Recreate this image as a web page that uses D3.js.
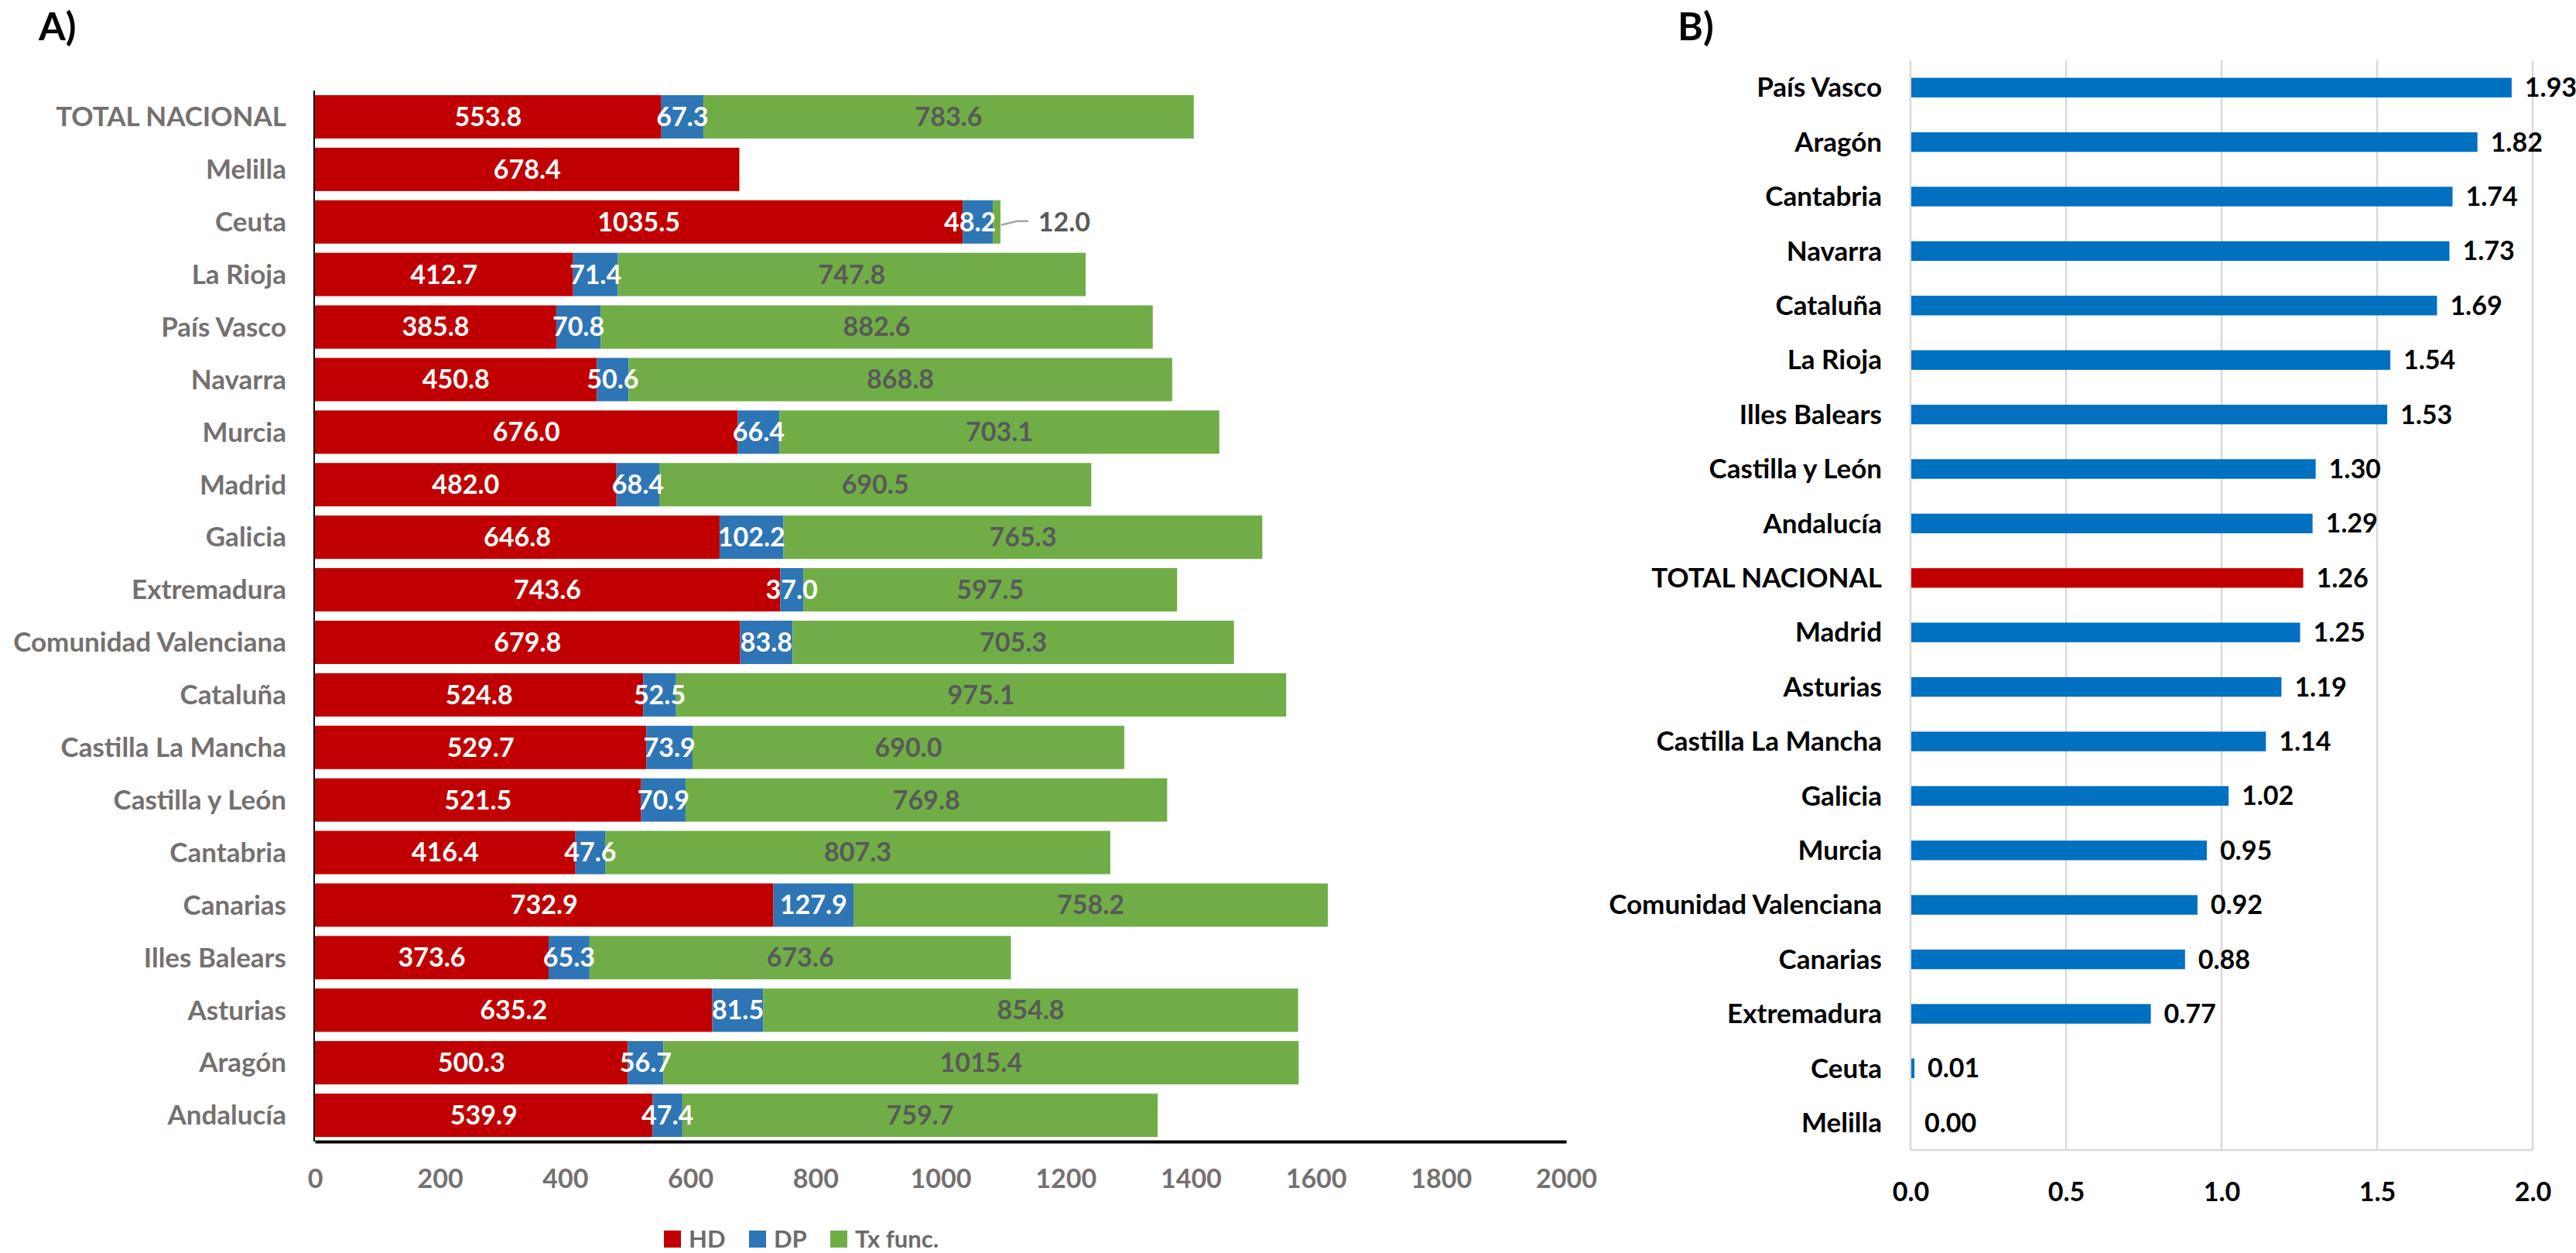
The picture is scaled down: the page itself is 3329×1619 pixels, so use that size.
<!DOCTYPE html>
<html>
<head>
<meta charset="utf-8">
<script src="https://cdn.jsdelivr.net/npm/d3@7/dist/d3.min.js"></script>
<style>
  html, body { margin: 0; padding: 0; background: #fff; }
  svg { display: block; }
  text { font-family: Lato, "Open Sans", sans-serif; font-weight: bold; }
</style>
</head>
<body>
<svg id="chart" width="3329" height="1619"></svg>
<script>
// ---------- Panel A data (top to bottom) ----------
const regionsA = ["TOTAL NACIONAL","Melilla","Ceuta","La Rioja","País Vasco","Navarra","Murcia","Madrid","Galicia","Extremadura","Comunidad Valenciana","Cataluña","Castilla La Mancha","Castilla y León","Cantabria","Canarias","Illes Balears","Asturias","Aragón","Andalucía"];
const hdValues = [553.8,678.4,1035.5,412.7,385.8,450.8,676.0,482.0,646.8,743.6,679.8,524.8,529.7,521.5,416.4,732.9,373.6,635.2,500.3,539.9];
const dpValues = [67.3,0,48.2,71.4,70.8,50.6,66.4,68.4,102.2,37.0,83.8,52.5,73.9,70.9,47.6,127.9,65.3,81.5,56.7,47.4];
const txValues = [783.6,0,12.0,747.8,882.6,868.8,703.1,690.5,765.3,597.5,705.3,975.1,690.0,769.8,807.3,758.2,673.6,854.8,1015.4,759.7];
const seriesNames = ["HD","DP","Tx func."];
const ticksA = [0,200,400,600,800,1000,1200,1400,1600,1800,2000];

// ---------- Panel B data (top to bottom) ----------
const regionsB = ["País Vasco","Aragón","Cantabria","Navarra","Cataluña","La Rioja","Illes Balears","Castilla y León","Andalucía","TOTAL NACIONAL","Madrid","Asturias","Castilla La Mancha","Galicia","Murcia","Comunidad Valenciana","Canarias","Extremadura","Ceuta","Melilla"];
const ratioValues = [1.93,1.82,1.74,1.73,1.69,1.54,1.53,1.30,1.29,1.26,1.25,1.19,1.14,1.02,0.95,0.92,0.88,0.77,0.01,0.00];
const ticksB = [0,0.5,1.0,1.5,2.0];

const colors = { HD: "#C00000", DP: "#2E75B6", Tx: "#70AD47", B: "#0070C0", total: "#C00000" };

const svg = d3.select("#chart");

// ================= Panel A =================
(function(){
  const x = d3.scaleLinear().domain([0,2000]).range([407,2024]);
  const y = d3.scaleBand().domain(regionsA).range([117,1475]).paddingInner(0.175).paddingOuter(0.0875);
  const g = svg.append("g");

  const rows = regionsA.map((r,i) => ({region:r, vals:[hdValues[i], dpValues[i], txValues[i]]}));
  const stack = d3.stack().keys([0,1,2]).value((d,k) => d.vals[k]);
  const layers = stack(rows);
  const segColors = [colors.HD, colors.DP, colors.Tx];
  const txtColors = ["#FFFFFF","#FFFFFF","#595959"];

  layers.forEach((layer, k) => {
    g.append("g").selectAll("rect").data(layer.filter(d => d[1] - d[0] > 0)).join("rect")
      .attr("x", d => x(d[0]))
      .attr("y", d => y(d.data.region))
      .attr("width", d => x(d[1]) - x(d[0]))
      .attr("height", y.bandwidth())
      .attr("fill", segColors[k]);
  });

  // labels
  layers.forEach((layer, k) => {
    layer.forEach(d => {
      const v = d[1] - d[0];
      if (v <= 0) return;
      const cy = y(d.data.region) + y.bandwidth()/2;
      if (d.data.region === "Ceuta" && k === 2) {
        const xe = x(d[1]);
        g.append("polyline")
          .attr("points", `${xe+1},${cy+4} ${xe+21},${cy-1} ${xe+36},${cy-1}`)
          .attr("fill","none").attr("stroke","#A6A6A6").attr("stroke-width",2.5);
        g.append("text").attr("x", xe + 49).attr("y", cy).attr("dy","0.35em")
          .attr("font-size", 34).attr("fill", "#595959").text(v.toFixed(1));
        return;
      }
      let cx = (x(d[0]) + x(d[1]))/2;
      if (d.data.region === "Ceuta" && k === 1) cx -= 10;
      g.append("text").attr("x", cx).attr("y", cy).attr("dy","0.35em")
        .attr("text-anchor","middle").attr("font-size", 34)
        .attr("fill", txtColors[k]).text(v.toFixed(1));
    });
  });

  // category labels
  g.append("g").selectAll("text").data(regionsA).join("text")
    .attr("x", 370).attr("y", d => y(d) + y.bandwidth()/2).attr("dy","0.35em")
    .attr("text-anchor","end").attr("font-size", 35).attr("fill","#757070").text(d => d);

  // axes lines
  g.append("line").attr("x1",406).attr("x2",406).attr("y1",117).attr("y2",1475)
    .attr("stroke","#000").attr("stroke-width",2);
  const ax = d3.axisBottom(x).tickValues(ticksA).tickSize(0).tickPadding(36).tickFormat(d3.format("d"));
  const axg = g.append("g").attr("transform","translate(0,1475)").call(ax);
  axg.select(".domain").attr("stroke","#000").attr("stroke-width",4);
  axg.selectAll("text").attr("font-size",34).attr("fill","#757070")
    .style("font-family","Lato, sans-serif").style("font-weight","bold");

  // legend
  const lg = g.append("g");
  const legX = [858, 968, 1073];
  const legC = [colors.HD, colors.DP, colors.Tx];
  seriesNames.forEach((s,i) => {
    lg.append("rect").attr("x", legX[i]).attr("y", 1590).attr("width",22).attr("height",22).attr("fill",legC[i]);
    lg.append("text").attr("x", legX[i] + 32).attr("y", 1601).attr("dy","0.35em")
      .attr("font-size",31).attr("fill","#6B6B6B").text(s);
  });

  svg.append("text").attr("x",50).attr("y",52).attr("font-size",50).attr("fill","#000").text("A)");
})();

// ================= Panel B =================
(function(){
  const x = d3.scaleLinear().domain([0,2]).range([2469,3273]);
  const y = d3.scaleBand().domain(regionsB).range([78,1486]).paddingInner(0.64).paddingOuter(0.32);
  const g = svg.append("g");

  // gridlines
  g.append("g").selectAll("line").data(ticksB).join("line")
    .attr("x1", d => x(d)).attr("x2", d => x(d)).attr("y1",78).attr("y2",1486)
    .attr("stroke","#D9D9D9").attr("stroke-width",2.5);
  g.append("line").attr("x1",x(0)).attr("x2",x(2)).attr("y1",1486).attr("y2",1486)
    .attr("stroke","#D9D9D9").attr("stroke-width",2.5);

  const rows = regionsB.map((r,i) => ({region:r, v:ratioValues[i]}));
  g.append("g").selectAll("rect").data(rows).join("rect")
    .attr("x", x(0) + 1)
    .attr("y", d => y(d.region))
    .attr("width", d => Math.max(0, x(d.v) - x(0)))
    .attr("height", y.bandwidth())
    .attr("fill", d => d.region === "TOTAL NACIONAL" ? colors.total : colors.B);

  g.append("g").selectAll("text").data(rows).join("text")
    .attr("x", d => x(d.v) + 18)
    .attr("y", d => y(d.region) + y.bandwidth()/2).attr("dy","0.35em")
    .attr("font-size",34).attr("fill","#000").text(d => d.v.toFixed(2));

  g.append("g").selectAll("text").data(regionsB).join("text")
    .attr("x", 2432).attr("y", d => y(d) + y.bandwidth()/2).attr("dy","0.35em")
    .attr("text-anchor","end").attr("font-size",35).attr("fill","#000").text(d => d);

  const ax = d3.axisBottom(x).tickValues(ticksB).tickSize(0).tickPadding(42).tickFormat(d3.format(".1f"));
  const axg = g.append("g").attr("transform","translate(0,1486)").call(ax);
  axg.select(".domain").remove();
  axg.selectAll("text").attr("font-size",34).attr("fill","#000")
    .style("font-family","Lato, sans-serif").style("font-weight","bold");

  svg.append("text").attr("x",2168).attr("y",52).attr("font-size",50).attr("fill","#000").text("B)");
})();
</script>
</body>
</html>
